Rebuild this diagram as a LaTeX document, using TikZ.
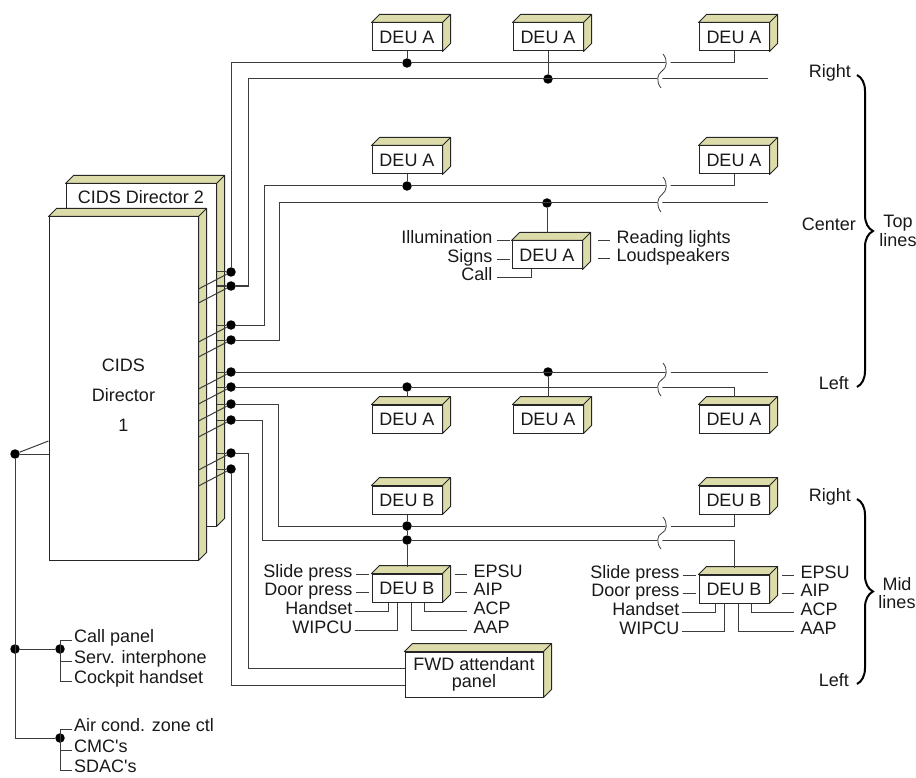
\documentclass[tikz,border=0pt]{standalone}
\usepackage{fontspec}
\setmainfont{Liberation Sans}
\usetikzlibrary{calc, decorations.pathreplacing}
\definecolor{khaki}{HTML}{DCDBAA}
\definecolor{wirec}{HTML}{3C3C3C}

\tikzset{
  wire/.style={draw=wirec, line width=1pt},
  unit/.style={draw=black!85, line width=1pt, fill=white, inner sep=0pt,
    minimum width=70pt, minimum height=28pt},
  face/.style={draw=black!85, line width=1pt, fill=khaki, line join=round},
  dot/.style={circle, fill=black, inner sep=0pt, minimum size=9.5pt},
  tag/.style={inner sep=0pt},
  hook/.style={decorate, decoration={brace, amplitude=16pt}, line width=2pt},
}

% top and right faces of a box node
\newcommand{\boxfaces}[1]{%
  \draw[face] (#1.north west) -- ++(8pt,8pt) -- ([shift={(8pt,8pt)}]#1.north east)
    -- ([shift={(8pt,8pt)}]#1.south east) -- (#1.south east) -- (#1.north east) -- cycle;
  \draw[face, fill=none] (#1.north east) -- ++(8pt,8pt);}

% break mark on a pair of lines
\newcommand{\wirebreak}[3]{%
  \draw[white, line width=5pt] (#1+2,#2-9) .. controls (#1+7,#2-3) and (#1+6,#2+5) .. (#1+1,{(#2+#3)/2})
    .. controls (#1-4,#3-5) and (#1-5,#3+3) .. (#1,#3+9);
  \draw[wirec, line width=0.8pt] (#1,#2-9) .. controls (#1+5,#2-3) and (#1+4,#2+5) .. (#1-1,{(#2+#3)/2})
    .. controls (#1-6,#3-5) and (#1-7,#3+3) .. (#1-2,#3+9);}

\begin{document}
\begin{tikzpicture}[x=1pt, y=-1pt, font=\fontsize{18}{18.5}\selectfont, text=black!90]
  \useasboundingbox (0,0) rectangle (916,778);

  % CIDS directors
  \node[unit, minimum width=150pt, minimum height=342pt] (d2) at (141,355) {};
  \boxfaces{d2}
  \node[tag] (d2txt) at (141,197) {CIDS Director 2};
  \node[unit, minimum width=149pt, minimum height=343pt] (d1) at (123.5,388.5) {};
  \boxfaces{d1}
  \node[tag, align=center, font=\fontsize{18}{30}\selectfont] (d1txt) at (123.5,395) {CIDS\\Director\\1};

  % DEU units
  \node[unit] (ta1) at (407,37) {DEU A};
  \node[unit] (ta2) at (548,37) {DEU A};
  \node[unit] (ta3) at (734,37) {DEU A};
  \node[unit] (ca1) at (407,160) {DEU A};
  \node[unit] (ca2) at (734,160) {DEU A};
  \node[unit] (cm) at (547,255) {DEU A};
  \node[unit] (la1) at (407,419) {DEU A};
  \node[unit] (la2) at (548,419) {DEU A};
  \node[unit] (la3) at (734,419) {DEU A};
  \node[unit] (mb1) at (407,500) {DEU B};
  \node[unit] (mb2) at (734,500) {DEU B};
  \node[unit] (lb1) at (407,588) {DEU B};
  \node[unit] (lb2) at (734,589) {DEU B};
  \node[unit, minimum width=138pt, minimum height=45pt, align=center,
    font=\fontsize{18}{17.5}\selectfont] (fwd) at (474,674.5) {FWD attendant\\panel};
  \foreach \n in {ta1,ta2,ta3,ca1,ca2,cm,la1,la2,la3,mb1,mb2,lb1,lb2,fwd}{
    \boxfaces{\n}
  }

  % director outputs
  \foreach \n/\y in {dr1/272, dr2/286, dc1/325, dc2/340, dl1/372, dl2/387,
                     dm1/404, dm2/420, df1/453, df2/469}{
    \node[dot] (\n) at (231,\y) {};
    \draw[wire] (d2.east |- \n) -- (\n);
    \draw[wire] ($(d1.east |- \n)+(0,17)$) -- (\n);
  }

  % junctions
  \node[dot] (jr1) at (407,63) {};
  \node[dot] (jr2) at (548,79) {};
  \node[dot] (jc1) at (407,186) {};
  \node[dot] (jc2) at (547,203) {};
  \node[dot] (jl1) at (548,372) {};
  \node[dot] (jl2) at (407,387) {};
  \node[dot] (jm1) at (407,526) {};
  \node[dot] (jm2) at (407,540) {};
  \coordinate (er2) at (768,79);
  \coordinate (ec2) at (768,203);
  \coordinate (el1) at (768,372);

  % top lines
  \draw[wire] (dr1) |- (jr1) -- (jr1 -| ta3) -- (ta3);
  \draw[wire] (ta1) -- (jr1);
  \draw[wire] (dr2) -- ++(17,0) |- (er2);
  \draw[wire] (ta2) -- (jr2);
  \draw[wire] (dc1) -- ++(33,0) |- (jc1) -- (jc1 -| ca2) -- (ca2);
  \draw[wire] (ca1) -- (jc1);
  \draw[wire] (dc2) -- ++(48,0) |- (ec2);
  \draw[wire] (jc2) -- ([yshift=7pt]cm.north);
  \draw[wire] (dl1) -- (el1);
  \draw[wire] (jl1) -- ([yshift=8pt]la2.north);
  \draw[wire] (dl2) -- (jl2) -- (jl2 -| la3) -- ([yshift=8pt]la3.north);
  \draw[wire] (jl2) -- ([yshift=8pt]la1.north);

  % mid lines
  \draw[wire] (dm1) -- ++(47,0) |- (jm1) -- (jm1 -| mb2) -- (mb2);
  \draw[wire] (dm2) -- ++(31,0) |- (jm2) -- (jm2 -| lb2) -- ([yshift=7pt]lb2.north);
  \draw[wire] (mb1) -- (jm1) -- (jm2) -- ([yshift=7pt]lb1.north);

  % FWD attendant panel
  \draw[wire] (df1) -- ++(17,0) |- ([yshift=6.5pt]fwd.west);
  \draw[wire] (df2) |- ([yshift=-10.5pt]fwd.west);

  \wirebreak{663}{63}{79}
  \wirebreak{663}{186}{203}
  \wirebreak{663}{372}{387}
  \wirebreak{663}{526}{540}

  % center DEU A taps
  \node[tag, anchor=mid east] (cm-ill) at ($(cm.north west)+(-19,0)$) {Illumination};
  \node[tag, anchor=mid east] (cm-sig) at ($(cm.north west)+(-19,19)$) {Signs};
  \node[tag, anchor=mid east] (cm-call) at ($(cm.north west)+(-19,37)$) {Call};
  \node[tag, anchor=mid west] (cm-read) at ($(cm.north east)+(34,0)$) {Reading lights};
  \node[tag, anchor=mid west] (cm-loud) at ($(cm.north east)+(34,18)$) {Loudspeakers};
  \draw[wire] ([xshift=4pt]cm-ill.mid east) -- ++(13,0);
  \draw[wire] ([xshift=4pt]cm-sig.mid east) -- ++(13,0);
  \draw[wire] ([xshift=4pt]cm-call.mid east) -| ($(cm.south west)+(20,0)$);
  \draw[wire] ([xshift=-7pt]cm-read.mid west) -- ++(-12,0);
  \draw[wire] ([xshift=-7pt]cm-loud.mid west) -- ++(-12,0);

  % DEU B taps
  \foreach \b in {lb1,lb2}{
    \node[tag, anchor=mid east] (\b-sl) at ($(\b.north west)+(-19,1)$) {Slide press};
    \node[tag, anchor=mid east] (\b-dp) at ($(\b.north west)+(-19,19)$) {Door press};
    \node[tag, anchor=mid east] (\b-hs) at ($(\b.north west)+(-19,38)$) {Handset};
    \node[tag, anchor=mid east] (\b-wi) at ($(\b.north west)+(-19,57)$) {WIPCU};
    \node[tag, anchor=mid west] (\b-ep) at ($(\b.north east)+(31,1)$) {EPSU};
    \node[tag, anchor=mid west] (\b-ai) at ($(\b.north east)+(31,19)$) {AIP};
    \node[tag, anchor=mid west] (\b-ac) at ($(\b.north east)+(31,38)$) {ACP};
    \node[tag, anchor=mid west] (\b-aa) at ($(\b.north east)+(31,57)$) {AAP};
    \draw[wire] ([xshift=3pt]\b-sl.mid east) -- ++(13,0);
    \draw[wire] ([xshift=3pt]\b-dp.mid east) -- ++(13,0);
    \draw[wire] ([xshift=2pt]\b-hs.mid east) -| ($(\b.south west)+(17,0)$);
    \draw[wire] ([xshift=2pt]\b-wi.mid east) -| ($(\b.south west)+(26,0)$);
    \draw[wire] ([xshift=-7pt]\b-ep.mid west) -- ++(-12,0);
    \draw[wire] ([xshift=-7pt]\b-ai.mid west) -- ++(-12,0);
    \draw[wire] ([xshift=-7pt]\b-ac.mid west) -| ($(\b.south west)+(53,0)$);
    \draw[wire] ([xshift=-7pt]\b-aa.mid west) -| ($(\b.south west)+(40,0)$);
  }

  % cockpit side
  \node[dot] (dx) at (15,454) {};
  \node[dot] (dj1) at (15,649) {};
  \node[dot] (dk1) at (60,649) {};
  \node[dot] (dk2) at (60,738) {};
  \draw[wire] (dx) -- (dx -| d1.west);
  \draw[wire] (dx) -- ($(dx -| d1.west)+(0,-13)$);
  \draw[wire] (dx) |- (dk2);
  \draw[wire] (dj1) -- (dk1);
  \node[tag, anchor=mid west] (cpan) at (74,640) {Call panel};
  \node[tag, anchor=mid west] (sint) at (74,661) {Serv. interphone};
  \node[tag, anchor=mid west] (chand) at (74,681) {Cockpit handset};
  \draw[wire] ([xshift=-2pt]cpan.mid west) -- ++(-12,0) |- ([xshift=-2pt]chand.mid west);
  \draw[wire] ([xshift=-2pt]sint.mid west) -- (sint.mid west -| dk1);
  \node[tag, anchor=mid west] (acz) at (74,729) {Air cond. zone ctl};
  \node[tag, anchor=mid west] (cmc) at (74,750) {CMC\textquotesingle s};
  \node[tag, anchor=mid west] (sdac) at (74,770) {SDAC\textquotesingle s};
  \draw[wire] ([xshift=-2pt]acz.mid west) -- ++(-12,0) |- ([xshift=-2pt]sdac.mid west);
  \draw[wire] ([xshift=-2pt]cmc.mid west) -- (cmc.mid west -| dk2);

  % line groups
  \coordinate (tbt) at (857,75);
  \coordinate (tbb) at (857,387);
  \coordinate (mbt) at (857,499);
  \coordinate (mbb) at (857,684);
  \draw[hook] (tbt) -- (tbb);
  \draw[hook] (mbt) -- (mbb);
  \node[tag, anchor=mid east] (trl) at (851,75) {Right};
  \node[tag, anchor=mid east] (tcl) at (856,228) {Center};
  \node[tag, anchor=mid east] (tll) at (849,387) {Left};
  \node[tag, align=center] (tgl) at (898,231) {Top\\lines};
  \node[tag, anchor=mid east] (mrl) at (851,499) {Right};
  \node[tag, anchor=mid east] (mll) at (849,684) {Left};
  \node[tag, align=center] (mgl) at (897,593) {Mid\\lines};
\end{tikzpicture}
\end{document}
